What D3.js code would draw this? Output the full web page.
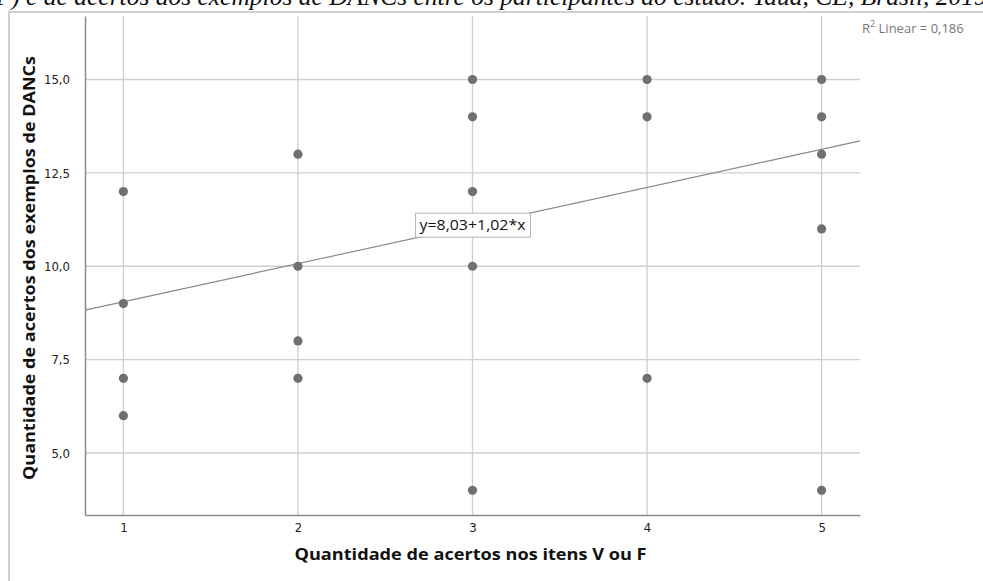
<!DOCTYPE html>
<html>
<head>
<meta charset="utf-8">
<script src="https://cdn.jsdelivr.net/npm/d3@7"></script>
<style>
  html, body { margin: 0; padding: 0; background: #fff; overflow: hidden; }
  text { font-family: "Open Sans", "DejaVu Sans", sans-serif; }
</style>
</head>
<body>
<div id="chart"></div>
<script>
// points (x = acertos V/F, y = acertos DANCs)
const acertosVF = [1, 1, 1, 1, 2, 2, 2, 2, 3, 3, 3, 3, 3, 4, 4, 4, 5, 5, 5, 5, 5];
const acertosDANCs = [12, 9, 7, 6, 13, 10, 8, 7, 15, 14, 12, 10, 4, 15, 14, 7, 15, 14, 13, 11, 4];

const xTicks = [1, 2, 3, 4, 5];
const yTicks = [5, 7.5, 10, 12.5, 15];

// fitted line y = a + b*x
const intercept = 8.03;
const slope = 1.02;
const r2 = "0,186";

const caption = "V/F) e de acertos dos exemplos de DANCs entre os participantes do estudo. Tauá, CE, Brasil, 2019";

const width = 983, height = 581;
const plot = {left: 85, right: 860, top: 16, bottom: 515};

const svg = d3.select("#chart").append("svg")
    .attr("width", width)
    .attr("height", height)
    .style("display", "block");

// caption of the figure, cut off by the top of the page
svg.append("text")
    .attr("x", -27)
    .attr("y", 5)
    .style("font-family", "'Liberation Serif', 'DejaVu Serif', serif")
    .style("font-style", "italic")
    .style("font-size", "25.5px")
    .attr("fill", "#111")
    .text(caption);

// frame of the pasted figure
svg.append("line")
    .attr("x1", 8).attr("x2", width)
    .attr("y1", 12).attr("y2", 12)
    .attr("stroke", "#d0d0d0").attr("stroke-width", 2);
svg.append("line")
    .attr("x1", 9).attr("x2", 9)
    .attr("y1", 12).attr("y2", height)
    .attr("stroke", "#d0d0d0").attr("stroke-width", 2);

const x = d3.scaleLinear().domain([0.78, 5.22]).range([plot.left, plot.right]);
const y = d3.scaleLinear().domain([3.34, 16.7]).range([plot.bottom, plot.top]);

const fmt = d => d3.format(".1f")(d).replace(".", ",");

// grid
svg.append("g").selectAll("line")
    .data(yTicks)
    .enter()
    .append("line")
    .attr("x1", plot.left).attr("x2", plot.right)
    .attr("y1", d => y(d)).attr("y2", d => y(d))
    .attr("stroke", "#cfcfcf").attr("stroke-width", 1.3);

svg.append("g").selectAll("line")
    .data(xTicks)
    .enter()
    .append("line")
    .attr("x1", d => x(d)).attr("x2", d => x(d))
    .attr("y1", plot.top).attr("y2", plot.bottom)
    .attr("stroke", "#cfcfcf").attr("stroke-width", 1.3);

// axes
const xAxis = svg.append("g")
    .attr("transform", `translate(0, ${plot.bottom})`)
    .call(d3.axisBottom(x).tickValues(xTicks).tickSize(0).tickPadding(8).tickFormat(d3.format("d")));
const yAxis = svg.append("g")
    .attr("transform", `translate(${plot.left}, 0)`)
    .call(d3.axisLeft(y).tickValues(yTicks).tickSize(0).tickPadding(15).tickFormat(fmt));

[xAxis, yAxis].forEach(ax => {
    ax.select(".domain").attr("stroke", "#8c8c8c").attr("stroke-width", 1.5);
    ax.selectAll("text")
        .style("font-family", "'Liberation Sans Narrow', 'DejaVu Sans Condensed', sans-serif")
        .style("font-size", "13px")
        .attr("fill", "#222");
});

// regression line
const xd = x.domain();
svg.append("line")
    .attr("x1", x(xd[0])).attr("y1", y(intercept + slope * xd[0]))
    .attr("x2", x(xd[1])).attr("y2", y(intercept + slope * xd[1]))
    .attr("stroke", "#8a8a8a").attr("stroke-width", 1.2);

// points
svg.append("g").selectAll("circle")
    .data(acertosVF.map((v, i) => [v, acertosDANCs[i]]))
    .enter()
    .append("circle")
    .attr("cx", d => x(d[0]))
    .attr("cy", d => y(d[1]))
    .attr("r", 4.6)
    .attr("fill", "#707070");

// equation label
const eq = svg.append("g").attr("transform", `translate(${x(3)}, ${y(11.1)})`);
eq.append("rect")
    .attr("x", -57).attr("y", -12)
    .attr("width", 115).attr("height", 24)
    .attr("fill", "#fff")
    .attr("stroke", "#b5b5b5");
eq.append("text")
    .attr("text-anchor", "middle")
    .attr("dy", "0.35em")
    .style("font-size", "15px")
    .attr("textLength", 106)
    .attr("lengthAdjust", "spacingAndGlyphs")
    .attr("fill", "#111")
    .text(`y=${d3.format(".2f")(intercept).replace(".", ",")}+${d3.format(".2f")(slope).replace(".", ",")}*x`);

// R2 note
const r2t = svg.append("text")
    .attr("x", 862)
    .attr("y", 33)
    .style("font-size", "13px")
    .attr("fill", "#777");
r2t.append("tspan").text("R");
r2t.append("tspan").attr("dy", -6).style("font-size", "9px").text("2");
r2t.append("tspan").attr("dy", 6).text(` Linear = ${r2}`);

// axis titles
svg.append("text")
    .attr("x", (plot.left + plot.right) / 2 - 2)
    .attr("y", 560)
    .attr("text-anchor", "middle")
    .style("font-size", "16px")
    .style("font-weight", "bold")
    .attr("textLength", 352)
    .attr("lengthAdjust", "spacingAndGlyphs")
    .attr("fill", "#111")
    .text("Quantidade de acertos nos itens V ou F");

svg.append("text")
    .attr("transform", `translate(35, ${268}) rotate(-90)`)
    .attr("text-anchor", "middle")
    .style("font-size", "15.5px")
    .style("font-weight", "bold")
    .attr("textLength", 424)
    .attr("lengthAdjust", "spacingAndGlyphs")
    .attr("fill", "#111")
    .text("Quantidade de acertos dos exemplos de DANCs");
</script>
</body>
</html>
